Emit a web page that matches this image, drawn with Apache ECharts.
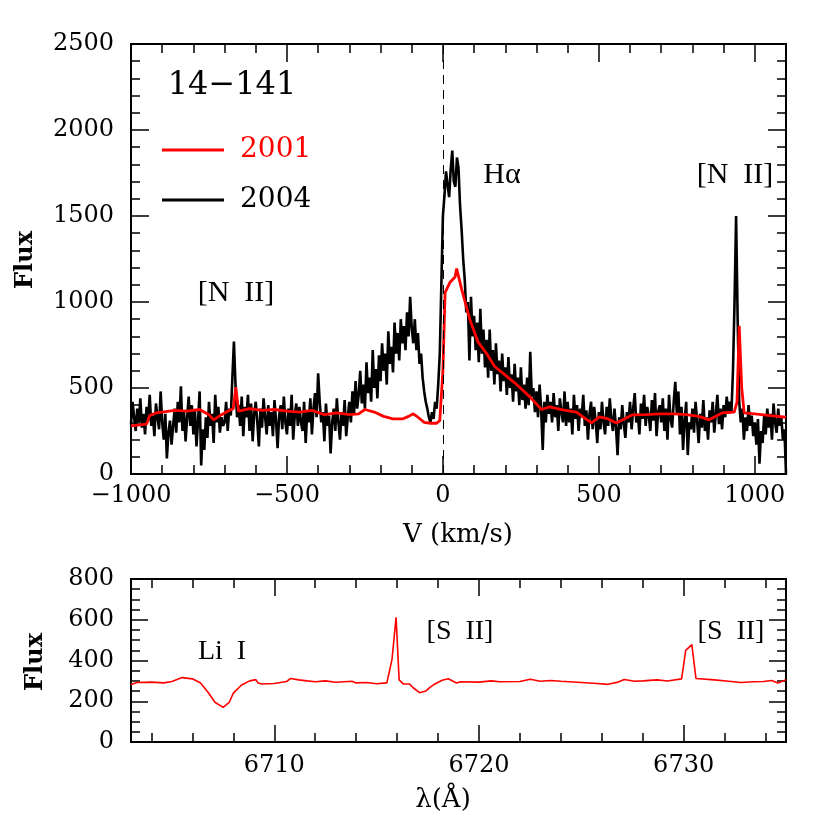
<!DOCTYPE html>
<html>
<head>
<meta charset="utf-8">
<script src="https://cdn.jsdelivr.net/npm/echarts@6/dist/echarts.min.js"></script>
<style>
  html, body { margin: 0; padding: 0; background: #fff; }
  #chart { width: 830px; height: 830px; }
</style>
</head>
<body>
<div id="chart"></div>
<script>
// top panel: 2004 spectrum, one value every 5 km/s from -1000 to 1100
const V_START = -1000;
const V_STEP = 5;
const flux2004 = [
  290, 420, 330, 250, 380, 300, 440, 270, 350, 230,
  390, 310, 460, 280, 340, 220, 410, 330, 260, 480,
  300, 200, 350, 90, 240, 310, 170, 280, 380, 240,
  420, 300, 510, 250, 360, 190, 330, 450, 280, 400,
  230, 370, 160, 310, 480, 50, 260, 140, 330, 210,
  420, 280, 350, 180, 460, 300, 390, 240, 330, 280,
  300, 420, 250, 380, 340, 560, 770, 520, 330, 400,
  280, 450, 220, 390, 330, 460, 250, 410, 190, 350,
  420, 300, 160, 380, 270, 440, 330, 230, 400, 280,
  360, 220, 430, 310, 150, 340, 400, 260, 450, 300,
  230, 380, 280, 460, 200, 340, 410, 280, 390, 300,
  250, 420, 180, 360, 300, 440, 230, 380, 470, 330,
  585, 420, 300, 360, 190, 410, 280, 340, 120, 300,
  380, 250, 440, 300, 200, 360, 280, 430, 220, 330,
  420, 300, 480, 350, 540, 380, 460, 600, 410, 520,
  380, 650, 470, 560, 420, 720, 500, 610, 440, 690,
  540, 760, 600, 700, 520, 830, 640, 740, 590, 880,
  700, 820, 660, 900, 760, 860, 720, 940, 800, 1030,
  850, 760, 900, 720, 820, 640, 700, 560, 480, 420,
  380, 330, 300, 360, 320, 420, 380, 520, 700, 1100,
  1500, 1620, 1760, 1680, 1610, 1770, 1880, 1700, 1670, 1840,
  1780, 1560, 1420, 1250, 1130, 940, 1000, 660, 1030, 800,
  920, 720, 880, 650, 960, 700, 840, 620, 780, 560,
  840, 600, 720, 520, 760, 580, 660, 480, 700, 540,
  620, 460, 680, 500, 580, 420, 640, 480, 560, 400,
  620, 430, 520, 380, 560, 400, 710, 450, 500, 360,
  480, 330, 520, 380, 140, 420, 300, 460, 350, 420,
  300, 470, 330, 400, 250, 440, 360, 300, 480, 280,
  420, 300, 380, 230, 460, 320, 400, 250, 380, 330,
  460, 280, 370, 200, 350, 420, 260, 390, 300, 180,
  360, 260, 420, 300, 230, 390, 280, 440, 320, 250,
  380, 270, 110, 330, 260, 400, 290, 210, 360, 300,
  420, 260, 380, 470, 300, 350, 230, 410, 320, 460,
  280, 390, 340, 250, 430, 310, 470, 220, 360, 400,
  300, 440, 250, 380, 200, 460, 320, 270, 420, 536,
  350, 480, 230, 390, 140, 310, 420, 110, 300, 260,
  380, 240, 420, 310, 180, 350, 270, 430, 250, 330,
  200, 370, 300, 420, 240, 350, 460, 290, 380, 260,
  400, 330, 450, 350, 420, 360, 600, 1000, 1500, 900,
  420, 300, 380, 200, 330, 250, 400, 280, 340, 220,
  300, 170, 320, 60, 250, 180, 340, 230, 380, 270,
  350, 200, 410, 300, 240, 380, 280, 330, 200, 260,
  0
];

// top panel: 2001 spectrum
const vel2001 = [-1000, -950, -940, -920, -900, -860, -820, -780, -750, -735, -710, -690, -672, -664, -655,
  -620, -580, -540, -500, -460, -420, -380, -340, -300, -270, -250, -220, -190, -160, -130, -110, -95, -80,
  -60, -40, -20, -10, 0, 7, 23, 39, 44, 60, 86, 112, 140, 166, 200, 230, 278, 316, 342, 384, 428, 476, 502,
  530, 556, 608, 650, 694, 740, 780, 820, 854, 895, 934, 943, 950, 958, 966, 1000, 1050, 1100];
const flux2001 = [280, 290, 340, 355, 360, 370, 365, 375, 345, 315, 345, 365, 380, 505, 365,
  380, 370, 375, 365, 360, 370, 345, 355, 345, 350, 375, 360, 335, 320, 320, 335, 350, 330,
  300, 295, 295, 310, 600, 1055, 1115, 1145, 1195, 1075, 900, 770, 700, 625, 575, 530, 450, 375, 390, 373, 360, 297, 332,
  320, 297, 344, 345, 350, 350, 345, 335, 315, 355, 360, 420, 862, 500, 355, 350, 340, 330];

// bottom panel: 2001 spectrum around Li I / [S II]
const lambda2001 = [6703, 6703.3, 6704, 6704.6, 6705, 6705.5, 6706, 6706.4, 6706.8, 6707.1, 6707.5, 6707.8, 6708.0,
  6708.4, 6708.8, 6709.1, 6709.2, 6709.4, 6710, 6710.6, 6710.8, 6711.2, 6711.6, 6712, 6712.5, 6713, 6713.8, 6714,
  6714.5, 6715, 6715.5, 6715.75, 6715.95, 6716.1, 6716.3, 6716.6, 6716.8, 6717.1, 6717.4, 6717.6, 6717.8,
  6718.2, 6718.5, 6718.9, 6719.1, 6720, 6720.6, 6721, 6722, 6722.5, 6723, 6723.5, 6724, 6725, 6725.6, 6726.3, 6726.8, 6727.1,
  6727.6, 6728, 6728.7, 6729.2, 6729.9, 6730.1, 6730.4, 6730.6, 6731.5, 6732.2, 6732.8, 6733.4, 6733.9, 6734.3, 6734.6, 6735];
const fluxLambda = [282, 292, 294, 290, 297, 316, 310, 290, 239, 195, 170, 195, 240,
  280, 300, 306, 290, 285, 287, 297, 312, 305, 300, 296, 300, 293, 298, 290,
  292, 286, 290, 404, 612, 305, 285, 285, 265, 242, 250, 268, 282,
  303, 310, 290, 296, 294, 300, 296, 297, 308, 298, 302, 298, 292, 288, 283, 294, 307,
  298, 300, 305, 299, 310, 450, 478, 312, 305, 298, 292, 296, 297, 302, 290, 306];

const lambdaMajor = [6710, 6720, 6730];
const lambdaMinor = [6704, 6706, 6708, 6712, 6714, 6716, 6718, 6722, 6724, 6726, 6728, 6732, 6734];

const FONT = 'DejaVu Serif';
const SERIF = 'Liberation Serif';

const chart = echarts.init(document.getElementById('chart'));

function minus(v) {
  return v < 0 ? '\u2212' + (-v) : String(v);
}

function boxAxis(extra, tickLen) {
  return Object.assign({
    type: 'value',
    axisLine: { show: true, onZero: false, lineStyle: { color: '#000', width: 2 } },
    axisTick: { show: true, inside: true, length: tickLen, lineStyle: { color: '#000', width: 1.5 } },
    splitLine: { show: false },
    axisLabel: { show: false },
  }, extra);
}

const tickLabel = { show: true, fontFamily: FONT, fontSize: 24, color: '#000', formatter: minus };

const option = {
  animation: false,
  backgroundColor: '#fff',
  grid: [
    { left: 131, top: 44, width: 655, height: 430 },
    { left: 131, top: 579, width: 655, height: 163 }
  ],
  xAxis: [
    boxAxis({ gridIndex: 0, position: 'bottom', min: -1000, max: 1100, interval: 500,
      axisLabel: Object.assign({}, tickLabel, { margin: 10, showMaxLabel: false }) }, 18),
    boxAxis({ gridIndex: 0, position: 'bottom', min: -1000, max: 1100, interval: 100 }, 9),
    boxAxis({ gridIndex: 0, position: 'top', min: -1000, max: 1100, interval: 500 }, 18),
    boxAxis({ gridIndex: 0, position: 'top', min: -1000, max: 1100, interval: 100 }, 9),
    boxAxis({ gridIndex: 1, position: 'bottom', min: 6703, max: 6735,
      axisTick: { show: true, inside: true, length: 17, customValues: lambdaMajor, lineStyle: { color: '#000', width: 1.5 } },
      axisLabel: Object.assign({}, tickLabel, { margin: 12, customValues: lambdaMajor }) }, 17),
    boxAxis({ gridIndex: 1, position: 'bottom', min: 6703, max: 6735,
      axisTick: { show: true, inside: true, length: 9, customValues: lambdaMinor, lineStyle: { color: '#000', width: 1.5 } } }, 9),
    boxAxis({ gridIndex: 1, position: 'top', min: 6703, max: 6735,
      axisTick: { show: true, inside: true, length: 17, customValues: lambdaMajor, lineStyle: { color: '#000', width: 1.5 } } }, 17),
    boxAxis({ gridIndex: 1, position: 'top', min: 6703, max: 6735,
      axisTick: { show: true, inside: true, length: 9, customValues: lambdaMinor, lineStyle: { color: '#000', width: 1.5 } } }, 9)
  ],
  yAxis: [
    boxAxis({ gridIndex: 0, position: 'left', min: 0, max: 2500, interval: 500,
      minorTick: { show: true, splitNumber: 5, length: 9, lineStyle: { color: '#000', width: 1.5 } },
      axisLabel: Object.assign({}, tickLabel, { margin: 17 }) }, 18),
    boxAxis({ gridIndex: 0, position: 'right', min: 0, max: 2500, interval: 500,
      minorTick: { show: true, splitNumber: 5, length: 9, lineStyle: { color: '#000', width: 1.5 } } }, 18),
    boxAxis({ gridIndex: 1, position: 'left', min: 0, max: 800, interval: 200,
      minorTick: { show: true, splitNumber: 4, length: 9, lineStyle: { color: '#000', width: 1.5 } },
      axisLabel: Object.assign({}, tickLabel, { margin: 17 }) }, 17),
    boxAxis({ gridIndex: 1, position: 'right', min: 0, max: 800, interval: 200,
      minorTick: { show: true, splitNumber: 4, length: 9, lineStyle: { color: '#000', width: 1.5 } } }, 17)
  ],
  legend: {
    left: 157, top: 131, orient: 'vertical',
    icon: 'rect', itemWidth: 62, itemHeight: 3, itemGap: 22,
    data: [
      { name: '2001', textStyle: { color: '#ff0000' } },
      { name: '2004', textStyle: { color: '#000' } }
    ],
    textStyle: { fontFamily: FONT, fontSize: 28, padding: [0, 0, 0, 11] }
  },
  series: [
    {
      name: '2004', type: 'line', xAxisIndex: 0, yAxisIndex: 0,
      data: flux2004.map((f, i) => [V_START + i * V_STEP, f]),
      symbol: 'none', lineStyle: { color: '#000', width: 2.6 }, itemStyle: { color: '#000' },
      markLine: {
        silent: true, symbol: 'none', label: { show: false },
        lineStyle: { color: '#000', width: 1, type: [9, 6] },
        data: [{ xAxis: 0 }]
      }
    },
    {
      name: '2001', type: 'line', xAxisIndex: 0, yAxisIndex: 0,
      data: vel2001.map((v, i) => [v, flux2001[i]]),
      symbol: 'none', lineStyle: { color: '#ff0000', width: 2.8 }, itemStyle: { color: '#ff0000' }
    },
    {
      name: '2001 Li', type: 'line', xAxisIndex: 4, yAxisIndex: 2,
      data: lambda2001.map((l, i) => [l, fluxLambda[i]]),
      symbol: 'none', lineStyle: { color: '#ff0000', width: 1.6 }
    }
  ],
  graphic: [
    { type: 'text', x: 232, y: 86, style: { text: '14\u2212141', font: '32px "' + FONT + '"', fill: '#000', align: 'center', verticalAlign: 'middle' } },
    { type: 'text', x: 236, y: 293, style: { text: '[N  II]', font: '30px "' + SERIF + '"', fill: '#000', align: 'center', verticalAlign: 'middle' } },
    { type: 'text', x: 502, y: 175, style: { text: 'H\u03b1', font: '30px "' + SERIF + '"', fill: '#000', align: 'center', verticalAlign: 'middle' } },
    { type: 'text', x: 735, y: 175, style: { text: '[N  II]', font: '30px "' + SERIF + '"', fill: '#000', align: 'center', verticalAlign: 'middle' } },
    { type: 'text', x: 222, y: 652, style: { text: 'Li  I', font: '28px "' + SERIF + '"', fill: '#000', align: 'center', verticalAlign: 'middle' } },
    { type: 'text', x: 460, y: 632, style: { text: '[S  II]', font: '28px "' + SERIF + '"', fill: '#000', align: 'center', verticalAlign: 'middle' } },
    { type: 'text', x: 731, y: 632, style: { text: '[S  II]', font: '28px "' + SERIF + '"', fill: '#000', align: 'center', verticalAlign: 'middle' } },
    { type: 'text', x: 26, y: 260, rotation: Math.PI / 2, style: { text: 'Flux', font: 'bold 24px "' + FONT + '"', fill: '#000', align: 'center', verticalAlign: 'middle' } },
    { type: 'text', x: 36, y: 662, rotation: Math.PI / 2, style: { text: 'Flux', font: 'bold 24px "' + FONT + '"', fill: '#000', align: 'center', verticalAlign: 'middle' } },
    { type: 'text', x: 458, y: 535, style: { text: 'V (km/s)', font: '26px "' + FONT + '"', fill: '#000', align: 'center', verticalAlign: 'middle' } },
    { type: 'text', x: 443, y: 800, style: { text: '\u03bb(\u00c5)', font: '26px "' + FONT + '"', fill: '#000', align: 'center', verticalAlign: 'middle' } }
  ]
};

chart.setOption(option);
</script>
</body>
</html>
